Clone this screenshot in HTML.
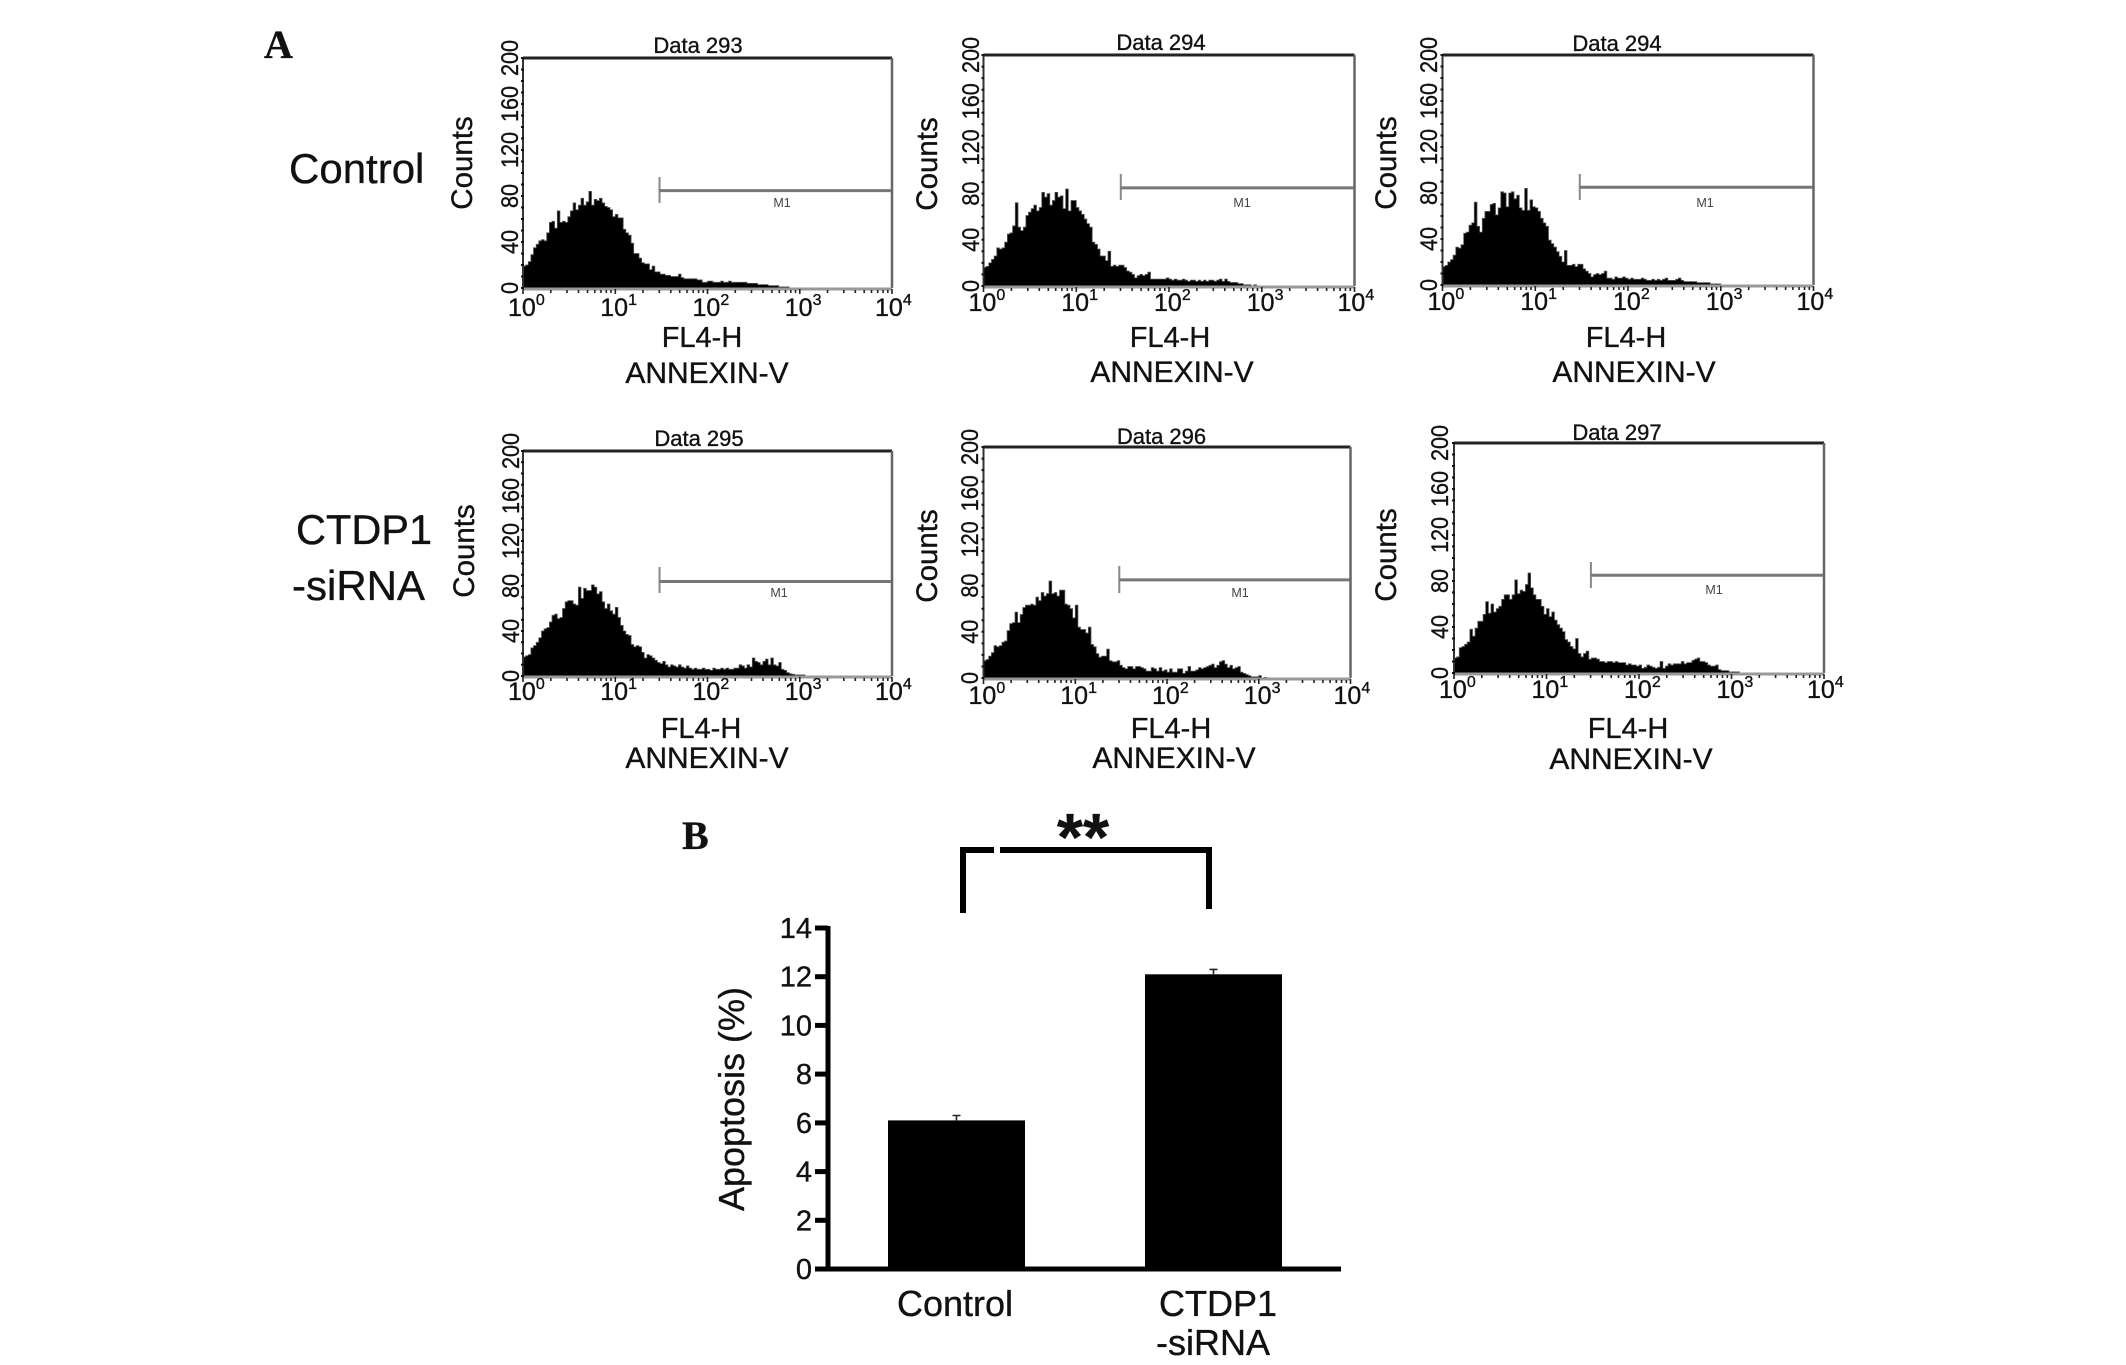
<!DOCTYPE html>
<html lang="en">
<head>
<meta charset="utf-8">
<title>Apoptosis flow cytometry histograms and bar chart</title>
<style>
html,body{margin:0;padding:0;background:#fff;}
#figure{display:block;width:2126px;height:1365px;background:#fff;font-family:"Liberation Sans",sans-serif;}
text{font-family:"Liberation Sans",sans-serif;fill:#111;stroke:#111;stroke-width:.35px;}
</style>
</head>
<body>
<svg id="figure" xmlns="http://www.w3.org/2000/svg" width="2126" height="1365" viewBox="0 0 2126 1365">
  <text x="264" y="58" style="font-family:'Liberation Serif',serif;font-weight:bold;font-size:40px" fill="#000">A</text>
  <text x="682" y="849" style="font-family:'Liberation Serif',serif;font-weight:bold;font-size:40px" fill="#000">B</text>
  <text x="289" y="183" font-size="42">Control</text>
  <text x="296" y="544" font-size="41.5">CTDP1</text>
  <text x="292" y="600" font-size="42">-siRNA</text>
  <g id="histograms"></g>
  <g id="bars"></g>
</svg>
<script>
// ---- histogram data: event counts per channel, channels evenly spaced over 4 log decades ----
const channelCount = 140;
const counts293 = [19,20,23,29,35,38,41,42,41,48,57,58,52,67,57,58,57,62,67,74,68,72,78,72,75,84,72,77,76,78,74,71,70,68,62,64,61,61,51,48,46,39,30,30,26,22,21,21,16,19,14,14,12,12,11,11,10,10,10,12,9,8,8,8,8,8,7,7,5,5,6,6,5,5,5,6,5,5,6,5,5,5,5,5,5,4,4,4,4,3,3,3,3,2,2,2,2,1,1,1,1];
const counts294a = [16,17,20,23,26,33,32,33,38,45,46,52,72,51,48,51,61,64,67,70,65,68,81,77,80,70,74,81,77,78,67,84,65,74,74,68,65,62,58,54,51,38,36,32,26,26,22,30,17,18,17,18,18,16,13,12,10,7,9,10,9,10,12,6,6,6,6,6,6,7,6,5,6,5,5,6,5,4,5,5,4,5,4,5,4,5,5,4,5,6,4,6,4,3,3,3,2,2,1,1,1,0,1];
const counts294b = [16,17,20,22,26,33,32,35,45,46,52,54,72,51,46,58,64,64,70,71,61,67,81,80,68,80,81,75,78,67,65,84,65,74,68,67,64,58,54,51,39,36,33,29,25,20,30,17,17,18,16,18,18,14,12,10,7,9,10,9,10,12,6,6,5,7,6,6,7,6,5,6,5,5,5,6,5,4,4,5,4,5,4,5,6,4,4,4,5,6,4,3,3,3,3,3,2,2,2,2,2,1,1,1,1];
const counts295 = [17,18,19,25,27,30,34,40,42,43,48,54,55,51,52,60,66,67,67,64,63,79,69,78,76,76,81,79,73,75,66,60,64,58,55,61,52,45,40,37,36,28,26,27,26,21,16,19,18,16,14,12,11,13,10,8,10,9,8,10,8,7,9,7,6,7,6,6,7,6,6,5,7,6,6,7,6,7,6,6,7,7,10,9,7,10,8,16,13,12,10,13,15,10,16,10,9,12,6,5,3,2,1.5,1,1,1,1];
const counts296 = [15,16,19,22,28,27,28,31,32,41,47,48,57,48,55,61,63,63,64,63,70,67,74,71,73,84,73,74,71,76,76,64,63,60,52,63,44,42,42,39,44,29,27,21,18,19,19,25,15,14,14,15,11,9,8,10,10,8,10,10,9,8,6,6,9,8,6,9,6,7,5,8,5,5,8,8,4,6,10,6,6,7,9,8,9,10,11,12,9,11,14,15,12,9,11,8,9,10,5,4,3,2,1,1,1,2,0,0.5];
const counts297 = [13,14,22,23,25,27,38,32,39,45,45,51,62,52,60,53,56,58,64,68,68,64,68,81,69,72,71,77,87,74,68,64,64,58,51,56,49,53,46,42,39,36,29,27,23,21,30,17,14,17,19,12,13,13,12,10,10,9,10,10,9,10,9,9,9,7,8,7,7,6,7,4,5,7,6,5,4,5,10,4,6,8,7,8,8,8,10,8,9,9,11,12,13,10,10,9,7,6,6,7,3,2,2,2,1,1,1,1];
const countTicks = [0,40,80,120,160,200];
const decadeExponents = [0,1,2,3,4];
const panelTitles = ["Data 293","Data 294","Data 294","Data 295","Data 296","Data 297"];
const gateDecade = 1.48;
const gateCounts = [84.7,85,85,84,85,85];
const gateLabel = "M1";
const xAxisName = "FL4-H";
const xAxisMarker = "ANNEXIN-V";
const yAxisName = "Counts";

// ---- bar chart data ----
const barCategories = ["Control","CTDP1"];
const barValues = [6.1,12.1];
const barErrors = [0.2,0.2];
const barTicks = [0,2,4,6,8,10,12,14];
const barAxisTitle = "Apoptosis (%)";
const significanceLabel = "**";

const SVGNS = "http://www.w3.org/2000/svg";
function add(parent, tag, attrs, text) {
  const node = document.createElementNS(SVGNS, tag);
  for (const k in attrs) node.setAttribute(k, attrs[k]);
  if (text !== undefined) node.textContent = text;
  parent.appendChild(node);
  return node;
}

const panelFrames = [
  {key:"data-293",counts:counts293,left:523,right:892,top:58,bottom:288,titleX:698,titleY:53,yLabelX:472,yLabelY:163,tickX:518,xTickY:316,nameX:702,nameY:347,markerX:707,markerY:383,m1X:782,m1Y:207,gateTop:177,gateBottom:203},
  {key:"data-294-a",counts:counts294a,left:983.5,right:1354.5,top:55,bottom:286,titleX:1161,titleY:50,yLabelX:937,yLabelY:164,tickX:979,xTickY:311,nameX:1170,nameY:347,markerX:1172,markerY:382,m1X:1242,m1Y:207,gateTop:174,gateBottom:200},
  {key:"data-294-b",counts:counts294b,left:1442.5,right:1813.5,top:55,bottom:285,titleX:1617,titleY:51,yLabelX:1396,yLabelY:163,tickX:1437,xTickY:310,nameX:1626,nameY:347,markerX:1634,markerY:382,m1X:1705,m1Y:207,gateTop:174,gateBottom:200},
  {key:"data-295",counts:counts295,left:523,right:892,top:451,bottom:676,titleX:699,titleY:446,yLabelX:474,yLabelY:551,tickX:519,xTickY:700,nameX:701,nameY:738,markerX:707,markerY:768,m1X:779,m1Y:597,gateTop:567,gateBottom:593},
  {key:"data-296",counts:counts296,left:983.5,right:1350.5,top:447,bottom:678,titleX:1161.5,titleY:444,yLabelX:937,yLabelY:556,tickX:978,xTickY:704,nameX:1171,nameY:738,markerX:1174,markerY:768,m1X:1240,m1Y:597,gateTop:566,gateBottom:593},
  {key:"data-297",counts:counts297,left:1454,right:1824,top:443,bottom:673,titleX:1617,titleY:440,yLabelX:1396,yLabelY:555,tickX:1448,xTickY:698,nameX:1628,nameY:738,markerX:1631,markerY:769,m1X:1714,m1Y:594,gateTop:562,gateBottom:588}
];

const histRoot = document.getElementById("histograms");
panelFrames.forEach(function (f, p) {
  const decadeScale = function (d) { return f.left + d / 4 * (f.right - f.left); };
  const countScale = function (c) { return f.bottom - c / 200 * (f.bottom - f.top); };
  const g = add(histRoot, "g", {});
  
  

  // histogram fill
  let d = "M" + decadeScale(0) + " " + countScale(0);
  f.counts.forEach(function (c, i) {
    const x0 = decadeScale(i * 4 / channelCount);
    const x1 = decadeScale((i + 1) * 4 / channelCount);
    d += "L" + x0.toFixed(1) + " " + countScale(c).toFixed(1) + "L" + x1.toFixed(1) + " " + countScale(c).toFixed(1);
  });
  d += "L" + decadeScale(f.counts.length * 4 / channelCount).toFixed(1) + " " + countScale(0) + "Z";
  const hist = add(g, "path", {d: d, fill: "#000", stroke: "#555", "stroke-width": "0.8"});
  
  

  // frame
  const topLine = add(g, "line", {x1: f.left, x2: f.right, y1: f.top, y2: f.top, stroke: "#222", "stroke-width": 3});
  
  
  const rightLine = add(g, "line", {x1: f.right, x2: f.right, y1: f.top, y2: f.bottom, stroke: "#666", "stroke-width": 2.5});
  
  
  const leftLine = add(g, "line", {x1: f.left, x2: f.left, y1: f.top, y2: f.bottom, stroke: "#333", "stroke-width": 2});
  
  
  const bottomLine = add(g, "line", {x1: f.left, x2: f.right, y1: f.bottom + 1, y2: f.bottom + 1, stroke: "#999", "stroke-width": 3});
  
  

  // y minor ticks
  let yt = "";
  for (let c = 0; c <= 200; c += 10) yt += "M" + (f.left - 2) + " " + countScale(c).toFixed(1) + "h3";
  const yTickPath = add(g, "path", {d: yt, stroke: "#111", "stroke-width": 2, fill: "none"});
  
  

  // x log ticks
  let xt = "";
  decadeExponents.forEach(function (e) {
    xt += "M" + decadeScale(e).toFixed(1) + " " + (f.bottom + 1) + "v5";
    if (e < 4) for (let m = 2; m <= 9; m++) xt += "M" + decadeScale(e + Math.log10(m)).toFixed(1) + " " + (f.bottom + 2) + "v3";
  });
  const xTickPath = add(g, "path", {d: xt, stroke: "#222", "stroke-width": 1.6, fill: "none"});
  
  

  // y tick labels
  countTicks.forEach(function (c) {
    const y = countScale(c);
    const t = add(g, "text", {transform: "translate(" + f.tickX + " " + y.toFixed(1) + ") rotate(-90) scale(0.9 1)", "font-size": 24, "text-anchor": "middle"}, String(c));
    
    
  });

  // x tick labels
  decadeExponents.forEach(function (e) {
    const t = add(g, "text", {x: decadeScale(e) - (e === 4 ? 17 : 15), y: f.xTickY, "font-size": 25});
    
    
    add(t, "tspan", {}, "10");
    add(t, "tspan", {"font-size": 16, dy: -11}, String(e));
  });

  // gate
  const gateX = decadeScale(gateDecade);
  const gateY = countScale(gateCounts[p]);
  const gateBar = add(g, "line", {x1: gateX, x2: gateX, y1: f.gateTop, y2: f.gateBottom, stroke: "#888", "stroke-width": 2});
  
  
  const gateLine = add(g, "line", {x1: gateX, x2: f.right - 1, y1: gateY, y2: gateY, stroke: "#777", "stroke-width": 3});
  
  
  const m1 = add(g, "text", {x: f.m1X, y: f.m1Y, "font-size": 12.5, "text-anchor": "middle", style: "fill:#444;stroke:none"}, gateLabel);
  
  

  // titles
  const title = add(g, "text", {x: f.titleX, y: f.titleY, "font-size": 22, "text-anchor": "middle"}, panelTitles[p]);
  
  
  const yTitle = add(g, "text", {transform: "translate(" + f.yLabelX + " " + f.yLabelY + ") rotate(-90)", "font-size": 29.5, "text-anchor": "middle"}, yAxisName);
  
  
  const xTitle = add(g, "text", {x: f.nameX, y: f.nameY, "font-size": 29, "text-anchor": "middle"}, xAxisName);
  
  
  const marker = add(g, "text", {x: f.markerX, y: f.markerY, "font-size": 30, "text-anchor": "middle"}, xAxisMarker);
  
  
});

// ---- bar chart ----
const barRoot = document.getElementById("bars");
const barY0 = 1269, barYTop = 928, barAxisX = 828, barAxisEnd = 1341;
const barLeft = [888, 1145];
const barWidth = 137;
const valueScale = function (v) { return barY0 - v / 14 * (barY0 - barYTop); };

barCategories.forEach(function (name, i) {
  const y = valueScale(barValues[i]);
  const rect = add(barRoot, "rect", {x: barLeft[i], y: y.toFixed(1), width: barWidth, height: (barY0 - y).toFixed(1), fill: "#000"});
  
  
  const cx = barLeft[i] + barWidth / 2;
  const ye = valueScale(barValues[i] + barErrors[i]);
  const err = add(barRoot, "path", {d: "M" + cx + " " + y.toFixed(1) + "V" + ye.toFixed(1) + "M" + (cx - 4) + " " + ye.toFixed(1) + "h8", stroke: "#222", "stroke-width": 1.6, fill: "none"});
  
  
});

const axisPath = add(barRoot, "path", {d: "M" + barAxisX + " " + (barYTop - 2) + "V" + barY0 + "H" + barAxisEnd, stroke: "#000", "stroke-width": 5, fill: "none"});



barTicks.forEach(function (v) {
  const y = valueScale(v);
  const tick = add(barRoot, "line", {x1: barAxisX - 13, x2: barAxisX, y1: y.toFixed(1), y2: y.toFixed(1), stroke: "#000", "stroke-width": 5});
  
  
  const label = add(barRoot, "text", {x: 812, y: (y + 10).toFixed(1), "font-size": 29, "text-anchor": "end"}, String(v));
  
  
});

const barTitle = add(barRoot, "text", {transform: "translate(744 1099) rotate(-90)", "font-size": 36, "text-anchor": "middle"}, barAxisTitle);



const catControl = add(barRoot, "text", {x: 955, y: 1316, "font-size": 36, "text-anchor": "middle"}, barCategories[0]);


const catTreated = add(barRoot, "text", {x: 1218, y: 1316, "font-size": 36, "text-anchor": "middle"}, barCategories[1]);


const catTreated2 = add(barRoot, "text", {x: 1213, y: 1355, "font-size": 36, "text-anchor": "middle"}, "-siRNA");



const bracketLeft = add(barRoot, "path", {d: "M963 913V850H994", stroke: "#000", "stroke-width": 6, fill: "none"});


const bracketRight = add(barRoot, "path", {d: "M1000 850H1209V909", stroke: "#000", "stroke-width": 6, fill: "none"});


const stars = add(barRoot, "text", {x: 1083, y: 860, "font-size": 67, "font-weight": "bold", "text-anchor": "middle"}, significanceLabel);


</script>
</body>
</html>
